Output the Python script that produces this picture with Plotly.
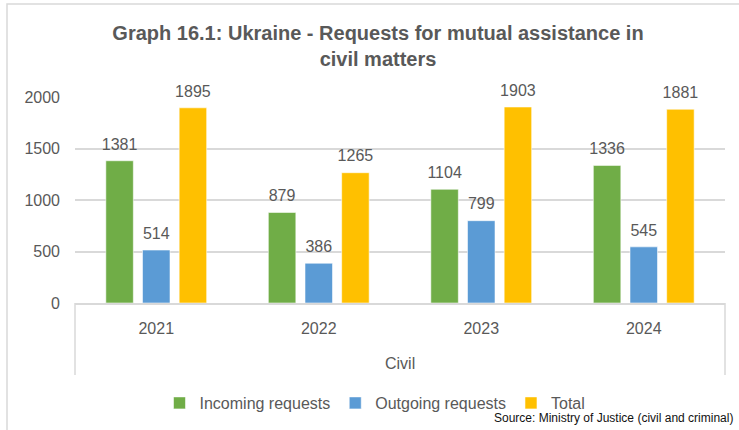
import plotly.graph_objects as go

years = ["2021", "2022", "2023", "2024"]
incoming = [1381, 879, 1104, 1336]
outgoing = [514, 386, 799, 545]
total = [1895, 1265, 1903, 1881]
series_names = ["Incoming requests", "Outgoing requests", "Total"]
series_colors = ["#70AD47", "#5B9BD5", "#FFC000"]
y_ticks = [0, 500, 1000, 1500, 2000]
group_label = "Civil"
title_text = "Graph 16.1: Ukraine - Requests for mutual assistance in<br>civil matters"
source_text = "Source: Ministry of Justice (civil and criminal)"

GRAY = "#595959"
LINE = "#D9D9D9"
FONT = "Liberation Sans, Arial, sans-serif"

fig = go.Figure()
for name, vals, col in zip(series_names, [incoming, outgoing, total], series_colors):
    fig.add_trace(go.Bar(
        x=years, y=vals, name=name, offsetgroup=name,
        marker=dict(color=col, line=dict(color="rgba(255,255,255,0.55)", width=1)),
    ))
for name, vals in zip(series_names, [incoming, outgoing, total]):
    fig.add_trace(go.Scatter(
        x=years, y=vals, mode="markers+text", offsetgroup=name,
        text=[str(v) for v in vals], textposition="top center",
        textfont=dict(family=FONT, size=16, color=GRAY),
        marker=dict(size=10, opacity=0), showlegend=False, hoverinfo="skip",
        cliponaxis=False,
    ))

fig.update_layout(
    width=739, height=430,
    margin=dict(l=75, r=14, t=97, b=127, autoexpand=False),
    paper_bgcolor="white", plot_bgcolor="white",
    barmode="group", bargap=0.323, bargroupgap=0.25,
    scattermode="group", scattergap=0.323,
    title=dict(text=title_text, x=0.5115, xref="container", xanchor="center",
               y=1 - 40 / 430, yref="container", yanchor="top", pad=dict(t=0, b=0),
               font=dict(family=FONT, size=20, color=GRAY, weight="bold")),
    font=dict(family=FONT, color=GRAY),
    showlegend=True,
    legend=dict(orientation="h", xref="container", x=375 / 739, xanchor="center",
                yref="container", y=1 - 403 / 430, yanchor="middle",
                font=dict(family=FONT, size=16, color=GRAY), traceorder="normal",
                itemwidth=30),
    xaxis=dict(type="category", showline=True, linecolor=LINE, linewidth=1.5,
               showgrid=False, ticks="", ticklabelstandoff=10, automargin=False,
               tickfont=dict(family=FONT, size=16, color=GRAY)),
    yaxis=dict(range=[0, 2000], tickvals=y_ticks, showgrid=True, gridcolor=LINE,
               gridwidth=1.5, zeroline=False, showline=False, ticks="", automargin=False,
               ticklabelstandoff=14, tickfont=dict(family=FONT, size=16, color=GRAY)),
)

# multi-level axis dividers and group label
for xp in [0, 1]:
    fig.add_shape(type="line", xref="paper", yref="paper", x0=xp, x1=xp,
                  y0=0, y1=-(375 - 303) / 206, line=dict(color=LINE, width=1.5))
fig.add_annotation(text=group_label, xref="paper", yref="paper", x=0.5,
                   y=-(363 - 303) / 206, showarrow=False, yanchor="middle",
                   font=dict(family=FONT, size=16, color=GRAY))
# chart border
fig.add_shape(type="rect", xref="paper", yref="paper",
              x0=(7 - 75) / 650, x1=1.2, y0=(303 - 4) / 206, y1=-1.0,
              line=dict(color=LINE, width=1.5))
fig.add_annotation(text=source_text, xref="paper", yref="paper",
                   x=(735 - 75) / 650, xanchor="right", y=-(418 - 303) / 206,
                   yanchor="middle", showarrow=False,
                   font=dict(family=FONT, size=12, color="#111111"))

fig.write_html("out.html", config={"displayModeBar": False},
               post_script="document.body.style.margin='0';document.body.style.padding='0';")
